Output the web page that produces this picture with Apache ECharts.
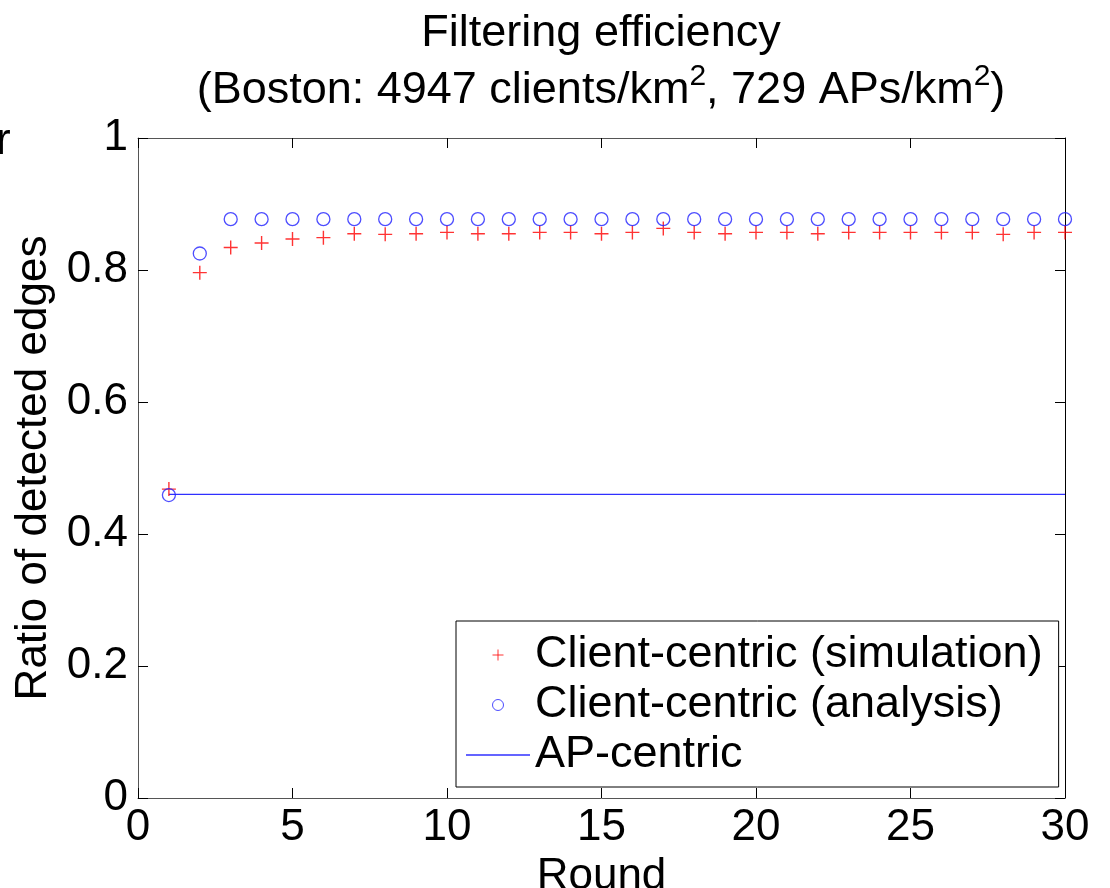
<!DOCTYPE html>
<html><head><meta charset="utf-8">
<script src="https://cdn.jsdelivr.net/npm/echarts@6/dist/echarts.min.js"></script>
<style>html,body{margin:0;padding:0;background:#fff}#c{width:1110px;height:888px}</style>
</head><body><div id="c"></div>
<script>
const rounds = [1,2,3,4,5,6,7,8,9,10,11,12,13,14,15,16,17,18,19,20,21,22,23,24,25,26,27,28,29,30];
const simulation = [0.468,0.796,0.834,0.841,0.847,0.849,0.855,0.854,0.855,0.857,0.855,0.855,0.857,0.857,0.855,0.857,0.863,0.857,0.855,0.857,0.857,0.855,0.857,0.857,0.857,0.857,0.857,0.854,0.857,0.857];
const analysis = [0.459,0.825,0.877,0.877,0.877,0.877,0.877,0.877,0.877,0.877,0.877,0.877,0.877,0.877,0.877,0.877,0.877,0.877,0.877,0.877,0.877,0.877,0.877,0.877,0.877,0.877,0.877,0.877,0.877,0.877];
const apRounds = [1, 30];
const apCentric = [0.46, 0.46];
const seriesNames = ['Client-centric (simulation)', 'Client-centric (analysis)', 'AP-centric'];

const FONT = 'Liberation Sans, Arial, Helvetica, sans-serif';
const FS = 44;
const FS_BIG = 45;
const plusPath = 'path://M0,-7L0,7M-7,0L7,0';
const linePath = 'path://M0,0L60,0L60,1.2L0,1.2Z';

const chart = echarts.init(document.getElementById('c'), null, {renderer: 'canvas'});
const axisCommon = {
  type: 'value',
  splitLine: {show: false},
  axisTick: {show: true, inside: true, length: 10, lineStyle: {color: '#000', width: 1}},
  axisLabel: {fontFamily: FONT, fontSize: FS, color: '#000'}
};
chart.setOption({
  animation: false,
  backgroundColor: '#fff',
  title: {
    left: 601, top: 5, padding: 0, textAlign: 'center',
    text: '{a|Filtering efficiency}\n{a|(Boston: 4947 clients/km}{s|2}{a|, 729 APs/km}{s|2}{a|)}',
    textStyle: {
      fontFamily: FONT, fontSize: FS_BIG, fontWeight: 'normal', color: '#000', lineHeight: 57,
      rich: {
        a: {fontFamily: FONT, fontSize: FS_BIG, color: '#000', lineHeight: 57},
        s: {fontFamily: FONT, fontSize: 30, color: '#000', verticalAlign: 'top'}
      }
    }
  },
  grid: {left: 138, right: 45, top: 138, bottom: 90, containLabel: false, outerBoundsMode: 'none'},
  legend: {
    orient: 'vertical', left: 456, top: 621,
    padding: [10, 16, 8, 10], itemGap: 2,
    itemWidth: 64, itemHeight: 11,
    backgroundColor: '#fff', borderColor: '#000', borderWidth: 1, borderRadius: 0,
    textStyle: {fontFamily: FONT, fontSize: FS_BIG, color: '#000', lineHeight: 48},
    data: [
      {name: seriesNames[0], icon: plusPath, itemStyle: {color: '#ff0000', borderColor: '#ff0000', borderWidth: 1}},
      {name: seriesNames[1], icon: 'circle', itemStyle: {color: 'rgba(0,0,0,0)', borderColor: '#2020ff', borderWidth: 1}},
      {name: seriesNames[2], icon: linePath, itemStyle: {color: '#3030ff', borderWidth: 0}}
    ]
  },
  graphic: [
    {type: 'text', x: -4, y: 142, style: {text: 'r', font: FS + 'px ' + FONT, fill: '#000', verticalAlign: 'middle'}}
  ],
  xAxis: [
    Object.assign({}, axisCommon, {
      position: 'bottom', min: 0, max: 30, interval: 5,
      name: 'Round', nameLocation: 'middle', nameGap: 50,
      nameTextStyle: {fontFamily: FONT, fontSize: FS, color: '#000'},
      axisLine: {show: true, onZero: false, lineStyle: {color: '#555', width: 1}},
      axisLabel: {fontFamily: FONT, fontSize: FS, color: '#000', margin: 8}
    }),
    Object.assign({}, axisCommon, {
      position: 'top', min: 0, max: 30, interval: 5,
      axisLine: {show: true, onZero: false, lineStyle: {color: '#555', width: 1}},
      axisLabel: {show: false}
    })
  ],
  yAxis: [
    Object.assign({}, axisCommon, {
      position: 'left', min: 0, max: 1, interval: 0.2,
      name: 'Ratio of detected edges', nameLocation: 'middle', nameGap: 82, nameRotate: 90,
      nameTextStyle: {fontFamily: FONT, fontSize: FS, color: '#000'},
      axisLine: {show: true, onZero: false, lineStyle: {color: '#555', width: 1}},
      axisLabel: {fontFamily: FONT, fontSize: FS, color: '#000', margin: 10}
    }),
    Object.assign({}, axisCommon, {
      position: 'right', min: 0, max: 1, interval: 0.2,
      axisLine: {show: true, onZero: false, lineStyle: {color: '#000', width: 1}},
      axisLabel: {show: false}
    })
  ],
  series: [
    {
      name: seriesNames[0], type: 'scatter', xAxisIndex: 0, yAxisIndex: 0,
      symbol: plusPath, symbolSize: 14, z: 3,
      itemStyle: {color: '#ff0000', borderColor: '#ff0000', borderWidth: 1.4},
      data: rounds.map((r, i) => [r, simulation[i]])
    },
    {
      name: seriesNames[1], type: 'scatter', xAxisIndex: 0, yAxisIndex: 0,
      symbol: 'circle', symbolSize: 13, z: 4,
      itemStyle: {color: 'rgba(0,0,0,0)', borderColor: '#2020ff', borderWidth: 1.3},
      data: rounds.map((r, i) => [r, analysis[i]])
    },
    {
      name: seriesNames[2], type: 'line', xAxisIndex: 0, yAxisIndex: 0,
      symbol: 'none', z: 2,
      lineStyle: {color: '#3030ff', width: 1.2},
      itemStyle: {color: '#3030ff'},
      data: apRounds.map((r, i) => [r, apCentric[i]])
    }
  ]
});
</script>
</body></html>
